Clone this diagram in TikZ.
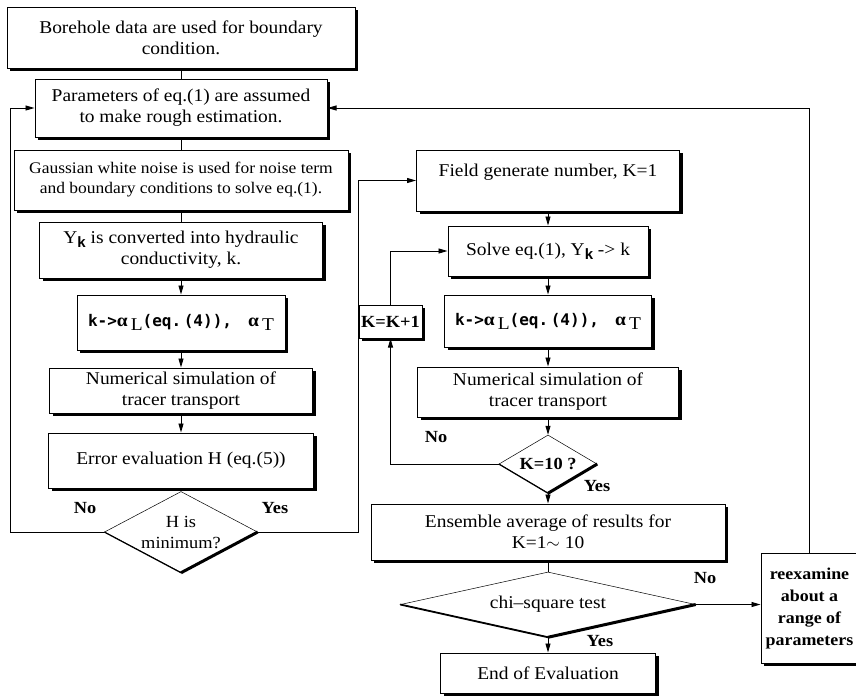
\documentclass[tikz,border=0pt]{standalone}
\usepackage{fontspec}
\setmainfont{Liberation Serif}[FakeStretch=1.08]
\setsansfont{Liberation Sans}
\newfontfamily\gothic{DejaVu Sans Mono}
\usetikzlibrary{arrows.meta,shapes.geometric,shadows}

\tikzset{
  box/.style={draw, line width=1pt, fill=white, align=center, inner sep=2pt,
    drop shadow={shadow xshift=3pt, shadow yshift=-3pt, fill=black, opacity=1}},
  decision/.style={diamond, draw, line width=0.5pt, fill=white, align=center, inner sep=0pt},
  flow/.style={line width=0.9pt},
  arr/.style={flow, -{Triangle[length=9pt,width=5pt]}},
  answer/.style={font=\fontsize{17}{21}\selectfont\bfseries},
}
% k -> alpha_L (eq. (4)), alpha_T
\newcommand{\alphaline}{{\gothic\bfseries\fontsize{16}{18}\selectfont k->}{\bfseries α}\,\raisebox{-0.5ex}{L}{\gothic\bfseries\fontsize{16}{18}\selectfont(eq.\,(4)),}\hspace{0.9em}{\bfseries α}\,\raisebox{-0.5ex}{T}}
\newcommand{\Yk}{Y\raisebox{-0.45ex}{\sffamily\bfseries\fontsize{15}{15}\selectfont k}}

\begin{document}
\begin{tikzpicture}[x=1pt, y=-1pt, font=\fontsize{18}{21}\selectfont]
    \useasboundingbox (0,0) rectangle (856,697);

    % Left column: rough estimation of parameters
    \node[box, minimum width=348, minimum height=61] (bore) at (181,37.5) {Borehole data are used for boundary\\condition.};
    \node[box, minimum width=292, minimum height=58] (param) at (181,108) {Parameters of eq.(1) are assumed\\to make rough estimation.};
    \node[box, minimum width=334, minimum height=60, font=\fontsize{16.2}{20}\selectfont] (noise) at (181,180) {Gaussian white noise is used for noise term\\and boundary conditions to solve eq.(1).};
    \node[box, minimum width=283, minimum height=56] (conv) at (181,250) {\Yk{} is converted into hydraulic\\conductivity, k.};
    \node[box, minimum width=208, minimum height=55] (alphaL) at (181,322.5) {\alphaline};
    \node[box, minimum width=263, minimum height=45] (simL) at (181,390.5) {Numerical simulation of\\tracer transport};
    \node[box, minimum width=265, minimum height=55] (err) at (181,460.5) {Error evaluation H (eq.(5))};
    \node[decision, minimum width=153, minimum height=81, aspect=1.9, font=\fontsize{17}{21}\selectfont] (hmin) at (181,532) {H is\\minimum?};

    % Right column: ensemble of generated fields
    \node[box, minimum width=263, minimum height=61] (field) at (548,180.5) {Field generate number, K=1\\\mbox{}};
    \node[box, minimum width=200, minimum height=50] (solve) at (548,251) {Solve eq.(1), \Yk{} -> k};
    \node[box, minimum width=207, minimum height=52] (alphaR) at (548,321) {\alphaline};
    \node[box, minimum width=261, minimum height=50] (simR) at (548,392) {Numerical simulation of\\tracer transport};
    \node[decision, minimum width=98, minimum height=58, aspect=1.7, font=\fontsize{17}{21}\selectfont\bfseries] (kten) at (548,464) {K=10 ?};
    \node[box, minimum width=63, minimum height=33, font=\fontsize{17}{21}\selectfont\bfseries] (incr) at (390.5,321.5) {K=K+1};
    \node[box, minimum width=354, minimum height=56] (ens) at (548,532) {Ensemble average of results for\\K=1$\sim$ 10};
    \node[decision, minimum width=295, minimum height=65, aspect=4.5] (chi) at (548,604.5) {chi\textendash square test};
    \node[box, minimum width=215, minimum height=40] (finish) at (548,673) {End of Evaluation};
    \node[box, minimum width=97, minimum height=110, font=\fontsize{16.6}{22}\selectfont\bfseries] (reex) at (809.5,608) {reexamine\\about a\\range of\\parameters};

    % Heavy lower edges of the decisions
    \draw[line width=3pt] (hmin.east) -- (hmin.south);
    \draw[line width=1.2pt] (hmin.west) -- (hmin.south);
    \draw[line width=3pt] (kten.east) -- (kten.south);
    \draw[line width=1.2pt] (kten.west) -- (kten.south);
    \draw[line width=3pt] (chi.east) -- (chi.south);
    \draw[line width=1.8pt] (chi.west) -- (chi.south);

    % Answers
    \node[answer] (noH) at (85,508) {No};
    \node[answer] (yesH) at (275,508) {Yes};
    \node[answer] (noK) at (436,437) {No};
    \node[answer] (yesK) at (597,486) {Yes};
    \node[answer] (noC) at (705,578) {No};
    \node[answer] (yesC) at (600,641) {Yes};

    % Left column connectors
    \draw[flow] (bore.south) -- (param.north);
    \draw[flow] (param.south) -- (noise.north);
    \draw[flow] (noise.south) -- (conv.north);
    \draw[arr] (conv.south) -- (alphaL.north);
    \draw[arr] (alphaL.south) -- (simL.north);
    \draw[arr] (simL.south) -- (err.north);
    \draw[flow] (err.south) -- (hmin.north);
    \coordinate (loopL) at (10,532);
    \draw[arr] (hmin.west) -- (loopL) |- (param.west);
    \coordinate (loopR) at (358,532);
    \draw[arr] (hmin.east) -- (loopR) |- (field.west);

    % Right column connectors
    \draw[arr] (field.south) -- (solve.north);
    \draw[arr] (solve.south) -- (alphaR.north);
    \draw[arr] (alphaR.south) -- (simR.north);
    \draw[arr] (simR.south) -- (kten.north);
    \draw[arr] (kten.west) -| (incr.south);
    \draw[arr] (incr.north) |- (solve.west);
    \draw[arr] (kten.south) -- (ens.north);
    \draw[flow] (ens.south) -- (chi.north);
    \draw[arr] (chi.south) -- (finish.north);
    \draw[arr] (chi.east) -- (chi.east -| reex.west);
    \draw[arr] (reex.north) |- (param.east);
\end{tikzpicture}
\end{document}
